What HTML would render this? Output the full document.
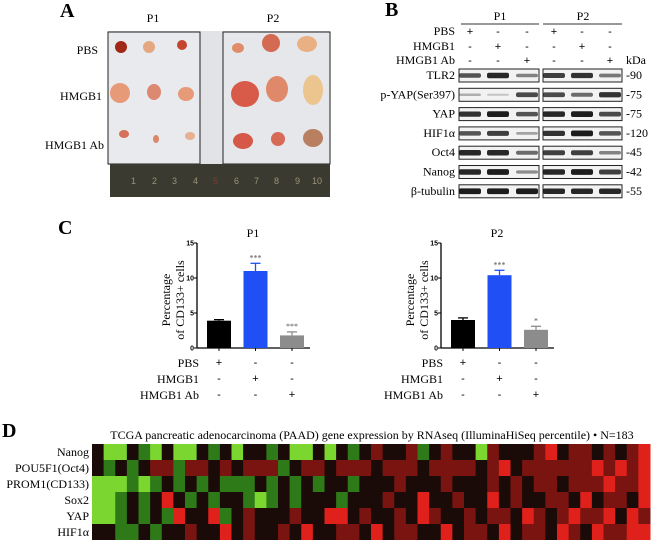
<!DOCTYPE html>
<html><head><meta charset="utf-8">
<style>
body{margin:0;background:#fff;width:658px;height:544px;overflow:hidden;position:relative;font-family:"Liberation Serif",serif;color:#111}
.t{position:absolute;white-space:nowrap}
</style></head>
<body>
<svg width="658" height="544" style="position:absolute;left:0;top:0" font-family="Liberation Serif, serif">
<!-- Panel A -->
<g>
<text x="60" y="17" font-size="20" font-weight="bold">A</text>
<text x="153" y="22" font-size="12" text-anchor="middle">P1</text>
<text x="273" y="22" font-size="12" text-anchor="middle">P2</text>
<text x="98" y="54" font-size="12" text-anchor="end">PBS</text>
<text x="102" y="100" font-size="12" text-anchor="end">HMGB1</text>
<text x="104" y="149" font-size="12" text-anchor="end">HMGB1 Ab</text>
<rect x="108" y="31" width="222" height="134" fill="#e2e3e6"/>
<rect x="108" y="32" width="92" height="132" fill="#e9eaed" stroke="#222" stroke-width="1"/>
<rect x="223" y="32" width="107" height="132" fill="#e6e7ea" stroke="#222" stroke-width="1"/>
<rect x="110" y="164" width="220" height="33" fill="#3a3a30"/>
<g font-size="9" fill="#9a9577" font-family="Liberation Sans, sans-serif">
<text x="131" y="184">1</text><text x="152" y="184">2</text><text x="172" y="184">3</text><text x="193" y="184">4</text><text x="213" y="184" fill="#7a4030">5</text><text x="234" y="184">6</text><text x="254" y="184">7</text><text x="274" y="184">8</text><text x="295" y="184">9</text><text x="312" y="184">10</text></g>
<g>
<ellipse cx="121" cy="47" rx="6" ry="6" fill="#a02818"/>
<ellipse cx="149" cy="47" rx="6" ry="6" fill="#e3a880"/>
<ellipse cx="182" cy="45" rx="5" ry="5" fill="#c4442e"/>
<ellipse cx="120" cy="93" rx="10" ry="10" fill="#e79a78"/>
<ellipse cx="154" cy="92" rx="7" ry="8" fill="#dd8870"/>
<ellipse cx="186" cy="94" rx="8" ry="7" fill="#e69a78"/>
<ellipse cx="124" cy="134" rx="5" ry="4" fill="#d6705a"/>
<ellipse cx="156" cy="139" rx="3" ry="4" fill="#d9866a"/>
<ellipse cx="190" cy="136" rx="5" ry="4" fill="#e7b090"/>
<ellipse cx="238" cy="48" rx="6" ry="5" fill="#e08c6a"/>
<ellipse cx="271" cy="43" rx="9" ry="9" fill="#d46a52"/>
<ellipse cx="307" cy="44" rx="10" ry="8" fill="#e9b083"/>
<ellipse cx="245" cy="94" rx="14" ry="13" fill="#d85a48"/>
<ellipse cx="277" cy="89" rx="11" ry="13" fill="#e0886a"/>
<ellipse cx="313" cy="90" rx="10" ry="15" fill="#ecc48e"/>
<ellipse cx="243" cy="141" rx="10" ry="8" fill="#d65848"/>
<ellipse cx="278" cy="139" rx="7" ry="7" fill="#d86a58"/>
<ellipse cx="313" cy="138" rx="10" ry="9" fill="#b88060"/>
</g>
</g>
<!-- Panel B -->
<g font-size="12">
<text x="385" y="16" font-size="20" font-weight="bold">B</text>
<text x="500" y="20" text-anchor="middle">P1</text>
<text x="583" y="20" text-anchor="middle">P2</text>
<line x1="461" y1="24" x2="539" y2="24" stroke="#333"/>
<line x1="543" y1="24" x2="622" y2="24" stroke="#333"/>
<text x="455" y="35" text-anchor="end">PBS</text>
<text x="455" y="50" text-anchor="end">HMGB1</text>
<text x="455" y="64" text-anchor="end">HMGB1 Ab</text>
<text x="626" y="64">kDa</text>
<g text-anchor="middle" font-family="Liberation Sans, sans-serif" font-size="11">
<text x="470" y="35">+</text><text x="498" y="35">-</text><text x="527" y="35">-</text><text x="554" y="35">+</text><text x="582" y="35">-</text><text x="610" y="35">-</text>
<text x="470" y="50">-</text><text x="498" y="50">+</text><text x="527" y="50">-</text><text x="554" y="50">-</text><text x="582" y="50">+</text><text x="610" y="50">-</text>
<text x="470" y="64">-</text><text x="498" y="64">-</text><text x="527" y="64">+</text><text x="554" y="64">-</text><text x="582" y="64">-</text><text x="610" y="64">+</text>
</g>
<g id="blots"></g>
</g>
<!-- Panel C -->
<g>
<text x="58" y="234" font-size="20" font-weight="bold">C</text>
<g id="c1"></g><g id="c2"></g>
</g>
<!-- Panel D -->
<g>
<text x="2" y="437" font-size="20" font-weight="bold">D</text>
<text x="372" y="439" font-size="12" text-anchor="middle">TCGA pancreatic adenocarcinoma (PAAD) gene expression by RNAseq (IlluminaHiSeq percentile) • N=183</text>
<g id="heat"></g>
</g>
</svg>
<script>
const NS="http://www.w3.org/2000/svg";
function mk(p,tag,a,txt){const e=document.createElementNS(NS,tag);for(const k in a)e.setAttribute(k,a[k]);if(txt!=null)e.textContent=txt;p.appendChild(e);return e;}
// Blots
const blotNames=["TLR2","p-YAP(Ser397)","YAP","HIF1α","Oct4","Nanog","β-tubulin"];
const blotKda=["-90","-75","-75","-120","-45","-42","-55"];
const blotInt=[[0.7,0.9,0.5,0.8,0.85,0.55],[0.3,0.2,0.75,0.75,0.6,0.85],[0.85,0.95,0.7,0.9,0.95,0.75],[0.7,0.8,0.35,0.85,0.95,0.7],[0.9,0.9,0.6,0.8,0.8,0.5],[0.9,0.95,0.45,0.9,0.95,0.8],[0.95,0.95,0.95,0.9,0.9,0.9]];
const bg=document.getElementById('blots');
const laneX=[470,498,527,554,582,610];
blotNames.forEach((n,i)=>{const y=69+i*19.3;
 const l=mk(bg,'text',{x:455,y:y+10,'text-anchor':'end'},n);
 
 
 mk(bg,'text',{x:626,y:y+10},blotKda[i]);
 mk(bg,'rect',{x:459,y:y,width:80,height:13,fill:'#f2f2f2',stroke:'#222','stroke-width':1});
 mk(bg,'rect',{x:543,y:y,width:79,height:13,fill:'#f2f2f2',stroke:'#222','stroke-width':1});
 blotInt[i].forEach((v,j)=>{const b=mk(bg,'rect',{x:laneX[j]-11,y:y+6.5-2.5*v-0.5,width:22,height:5*v+1,rx:2,fill:'#111',opacity:v});
  
  });
});
// Bar charts
const barCats=["PBS","HMGB1","HMGB1 Ab"];
const p1Vals=[3.9,11.0,1.8], p1Err=[0.15,1.1,0.5], p1Sig=["","***","***"];
const p2Vals=[4.0,10.4,2.6], p2Err=[0.3,0.7,0.5], p2Sig=["","***","*"];
const yTicks=[0,5,10,15];
const barCols=["#000","#1f4ff5","#8c8c8c"];
function bars(g,ax,vals,errs,sig,title){
 const y0=348,yS=105/15;const Y=v=>y0-v*yS;
 const X=i=>ax+22+i*36.5;
 mk(g,'text',{x:ax+56,y:237,'font-size':12,'text-anchor':'middle'},title);
 mk(g,'line',{x1:ax,y1:Y(0),x2:ax,y2:Y(15),stroke:'#000','stroke-width':1.3});
 mk(g,'line',{x1:ax,y1:Y(0),x2:ax+113,y2:Y(0),stroke:'#000','stroke-width':1.3});
 yTicks.forEach(t=>{mk(g,'line',{x1:ax-3,y1:Y(t),x2:ax,y2:Y(t),stroke:'#000'});
  mk(g,'text',{x:ax-3,y:Y(t)+2.5,'font-size':7,'text-anchor':'end','font-family':'Liberation Sans, sans-serif','font-weight':'bold'},t);});
 const yl=mk(g,'text',{transform:`translate(${ax-27},300) rotate(-90)`,'font-size':12,'text-anchor':'middle'});
 mk(yl,'tspan',{x:0,y:0},'Percentage');mk(yl,'tspan',{x:0,y:14},'of CD133+ cells');
 vals.forEach((v,i)=>{const x=X(i);
  const e=mk(g,'line',{x1:x,y1:Y(v),x2:x,y2:Y(v+errs[i]),stroke:barCols[i],'stroke-width':1.3});
  mk(g,'line',{x1:x-5,y1:Y(v+errs[i]),x2:x+5,y2:Y(v+errs[i]),stroke:barCols[i],'stroke-width':1.3});
  const r=mk(g,'rect',{x:x-12,y:Y(v),width:24,height:Y(0)-Y(v),fill:barCols[i]});
  
  
  mk(g,'line',{x1:x,y1:Y(0),x2:x,y2:Y(0)+3,stroke:'#000'});
  if(sig[i])mk(g,'text',{x:x,y:Y(v+errs[i])-3,'font-size':8,'text-anchor':'middle',fill:'#555'},sig[i]);
  for(let r2=0;r2<3;r2++){mk(g,'text',{x:x,y:366+r2*16,'font-size':11,'text-anchor':'middle','font-family':'Liberation Sans, sans-serif'},r2===i?'+':'-');}
 });
 barCats.forEach((c,r2)=>mk(g,'text',{x:ax+2,y:367+r2*16,'font-size':12,'text-anchor':'end'},c));
}
bars(document.getElementById('c1'),197,p1Vals,p1Err,p1Sig,"P1");
bars(document.getElementById('c2'),441,p2Vals,p2Err,p2Sig,"P2");
// Heatmap
const genes=["Nanog","POU5F1(Oct4)","PROM1(CD133)","Sox2","YAP","HIF1α"];
const heatRows=[
"kGGkgGkGGkgkGkkgkGGkGkgkrkkrgkrkkGrkkkrRkrrkrkrR",
"kgkgkrrgrrkrkrrrgkrrkrrrkrrrkrrrrkrRkrrrrrrRrRrR",
"GGGgGgkgkgkgggkgkgkgkkgkkkrkkkrkkkrkrkrrkrrrRrrR",
"GGgkgkRkgkgkkgGgkgkkkgkkkrkkRkkrkkRkrkkrrkRkrrkR",
"GGgkgkgRkkRgkrkkkrkkRRkrkkrkRrkkrkrrkRrkrRrrRkRr",
"kkggkgkkrkkRkrkkrkRkkrrkRkrrkkRkrrkRkrrkRrkRrrRR"];
const heatColor={G:"#7bd630",g:"#2f7a18",k:"#1a0a08",r:"#7a1410",R:"#e0201a"};
const hg=document.getElementById('heat');
const hx0=92,hx1=650,hy0=444,rowH=16;
genes.forEach((gname,r)=>{
 const t=mk(hg,'text',{x:89,y:hy0+r*rowH+12,'font-size':12,'text-anchor':'end'},gname);
 
 
 const s=heatRows[r];const cw=(hx1-hx0)/s.length;
 for(let c=0;c<s.length;c++){
  const cell=mk(hg,'rect',{x:hx0+c*cw,y:hy0+r*rowH,width:cw+0.5,height:rowH,fill:heatColor[s[c]]});
  
  
 }
});
</script>
</body></html>
